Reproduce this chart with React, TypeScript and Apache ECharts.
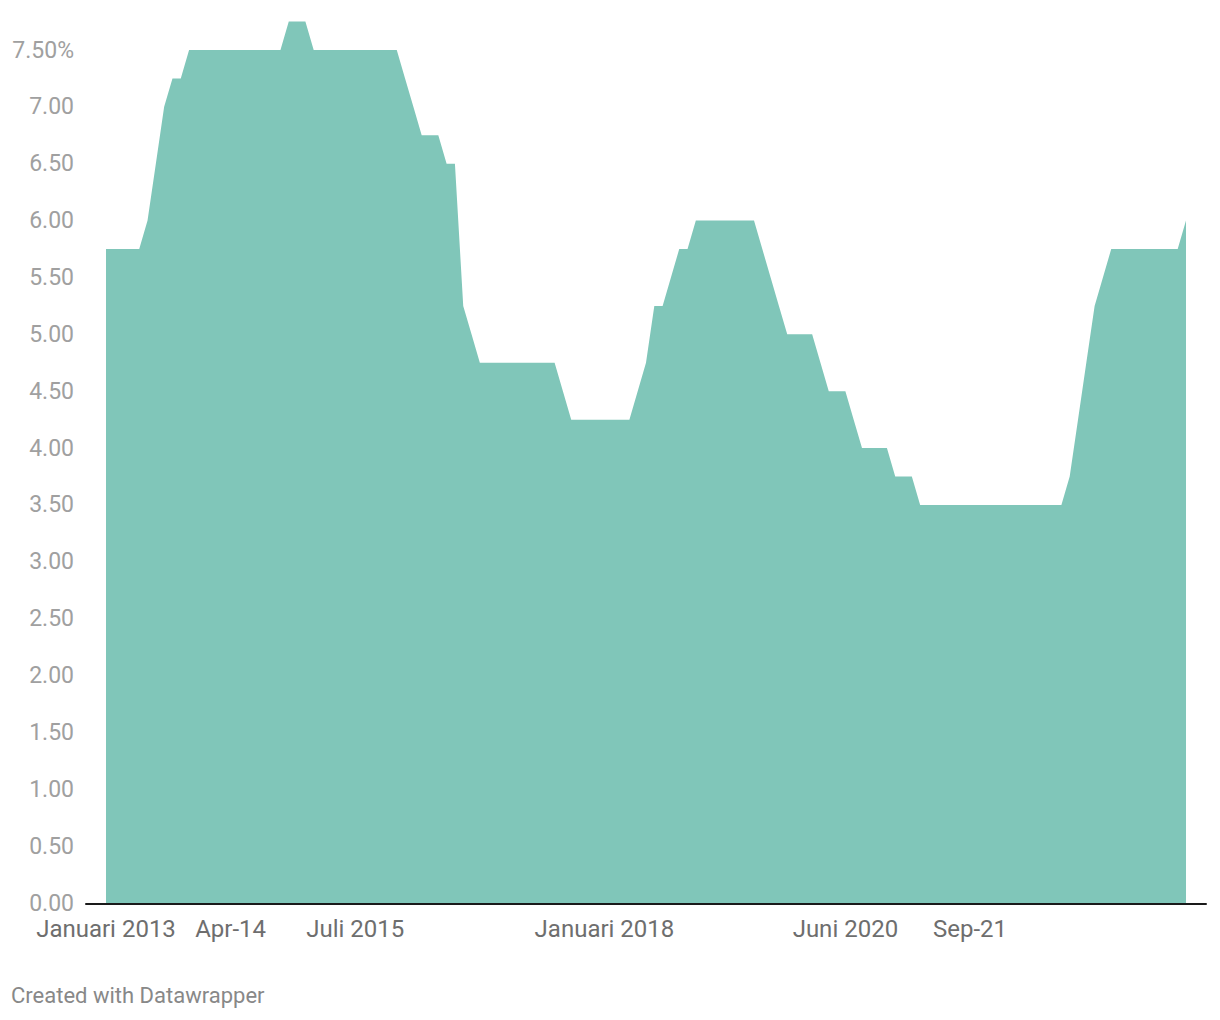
import React, { useEffect, useRef } from "react";
import * as echarts from "echarts";

// Monthly policy rate (%), January 2013 .. November 2023
const rates: number[] = [
  5.75, 5.75, 5.75, 5.75, 5.75, 6.0, 6.5, 7.0, 7.25, 7.25,
  7.5, 7.5, 7.5, 7.5, 7.5, 7.5, 7.5, 7.5, 7.5, 7.5,
  7.5, 7.5, 7.75, 7.75, 7.75, 7.5, 7.5, 7.5, 7.5, 7.5,
  7.5, 7.5, 7.5, 7.5, 7.5, 7.5, 7.25, 7.0, 6.75, 6.75,
  6.75, 6.5, 6.5, 5.25, 5.0, 4.75, 4.75, 4.75, 4.75, 4.75,
  4.75, 4.75, 4.75, 4.75, 4.75, 4.5, 4.25, 4.25, 4.25, 4.25,
  4.25, 4.25, 4.25, 4.25, 4.5, 4.75, 5.25, 5.25, 5.5, 5.75,
  5.75, 6.0, 6.0, 6.0, 6.0, 6.0, 6.0, 6.0, 6.0, 5.75,
  5.5, 5.25, 5.0, 5.0, 5.0, 5.0, 4.75, 4.5, 4.5, 4.5,
  4.25, 4.0, 4.0, 4.0, 4.0, 3.75, 3.75, 3.75, 3.5, 3.5,
  3.5, 3.5, 3.5, 3.5, 3.5, 3.5, 3.5, 3.5, 3.5, 3.5,
  3.5, 3.5, 3.5, 3.5, 3.5, 3.5, 3.75, 4.25, 4.75, 5.25,
  5.5, 5.75, 5.75, 5.75, 5.75, 5.75, 5.75, 5.75, 5.75, 5.75,
  6.0,
];

const startYear = 2013;
const months: string[] = rates.map((_, i) => {
  const y = startYear + Math.floor(i / 12);
  const m = (i % 12) + 1;
  return `${y}-${m < 10 ? "0" + m : m}`;
});

const tickIndices: number[] = [0, 15, 30, 60, 89, 104];
const tickLabels: string[] = [
  "Januari 2013",
  "Apr-14",
  "Juli 2015",
  "Januari 2018",
  "Juni 2020",
  "Sep-21",
];

const yMin = 0;
const yMax = 7.5;
const yStep = 0.5;

const FONT = "Roboto";

export default function App() {
  const ref = useRef<HTMLDivElement>(null);

  useEffect(() => {
    if (!ref.current) return;
    const chart = echarts.init(ref.current, null, { renderer: "svg" });
    chart.setOption({
      animation: false,
      backgroundColor: "#ffffff",
      textStyle: { fontFamily: FONT },
      grid: [
        { left: 106, right: 34, top: 50, bottom: 117 },
        { left: 86, right: 14, top: 50, bottom: 116 },
      ],
      xAxis: [
        {
          type: "category",
          gridIndex: 0,
          data: months,
          boundaryGap: false,
          axisLine: { show: false },
          axisTick: { show: false },
          splitLine: { show: false },
          axisLabel: {
            interval: (index: number) => tickIndices.indexOf(index) >= 0,
            formatter: (_v: string, index: number) => {
              const k = tickIndices.indexOf(index);
              return k >= 0 ? tickLabels[k] : "";
            },
            color: "#6e6e6e",
            fontSize: 24,
            fontFamily: FONT,
            margin: 14,
          },
        },
        {
          type: "value",
          gridIndex: 1,
          min: 0,
          max: 1,
          z: 10,
          axisLine: { show: true, lineStyle: { color: "#1a1a1a", width: 2 } },
          axisTick: { show: false },
          axisLabel: { show: false },
          splitLine: { show: false },
        },
      ],
      yAxis: [
        {
          type: "value",
          gridIndex: 0,
          min: yMin,
          max: yMax,
          interval: yStep,
          axisLine: { show: false },
          axisTick: { show: false },
          splitLine: { show: false },
          axisLabel: {
            margin: 32,
            color: "#a0a0a0",
            fontSize: 23,
            fontFamily: FONT,
            formatter: (v: number) => (v === yMax ? v.toFixed(2) + "%" : v.toFixed(2)),
          },
        },
        {
          type: "value",
          gridIndex: 1,
          show: false,
          min: 0,
          max: 1,
        },
      ],
      series: [
        {
          type: "line",
          xAxisIndex: 0,
          yAxisIndex: 0,
          data: rates,
          symbol: "none",
          clip: false,
          lineStyle: { width: 0, opacity: 0 },
          areaStyle: { color: "#80c6b9", opacity: 1 },
          itemStyle: { color: "#80c6b9" },
        },
      ],
      graphic: [
        {
          type: "text",
          left: 11,
          top: 984,
          style: {
            text: "Created with Datawrapper",
            fill: "#888888",
            fontSize: 22,
            fontFamily: FONT,
          },
        },
      ],
    });
    return () => chart.dispose();
  }, []);

  return (
    <div
      ref={ref}
      style={{ position: "fixed", left: 0, top: 0, width: 1220, height: 1020 }}
    />
  );
}
